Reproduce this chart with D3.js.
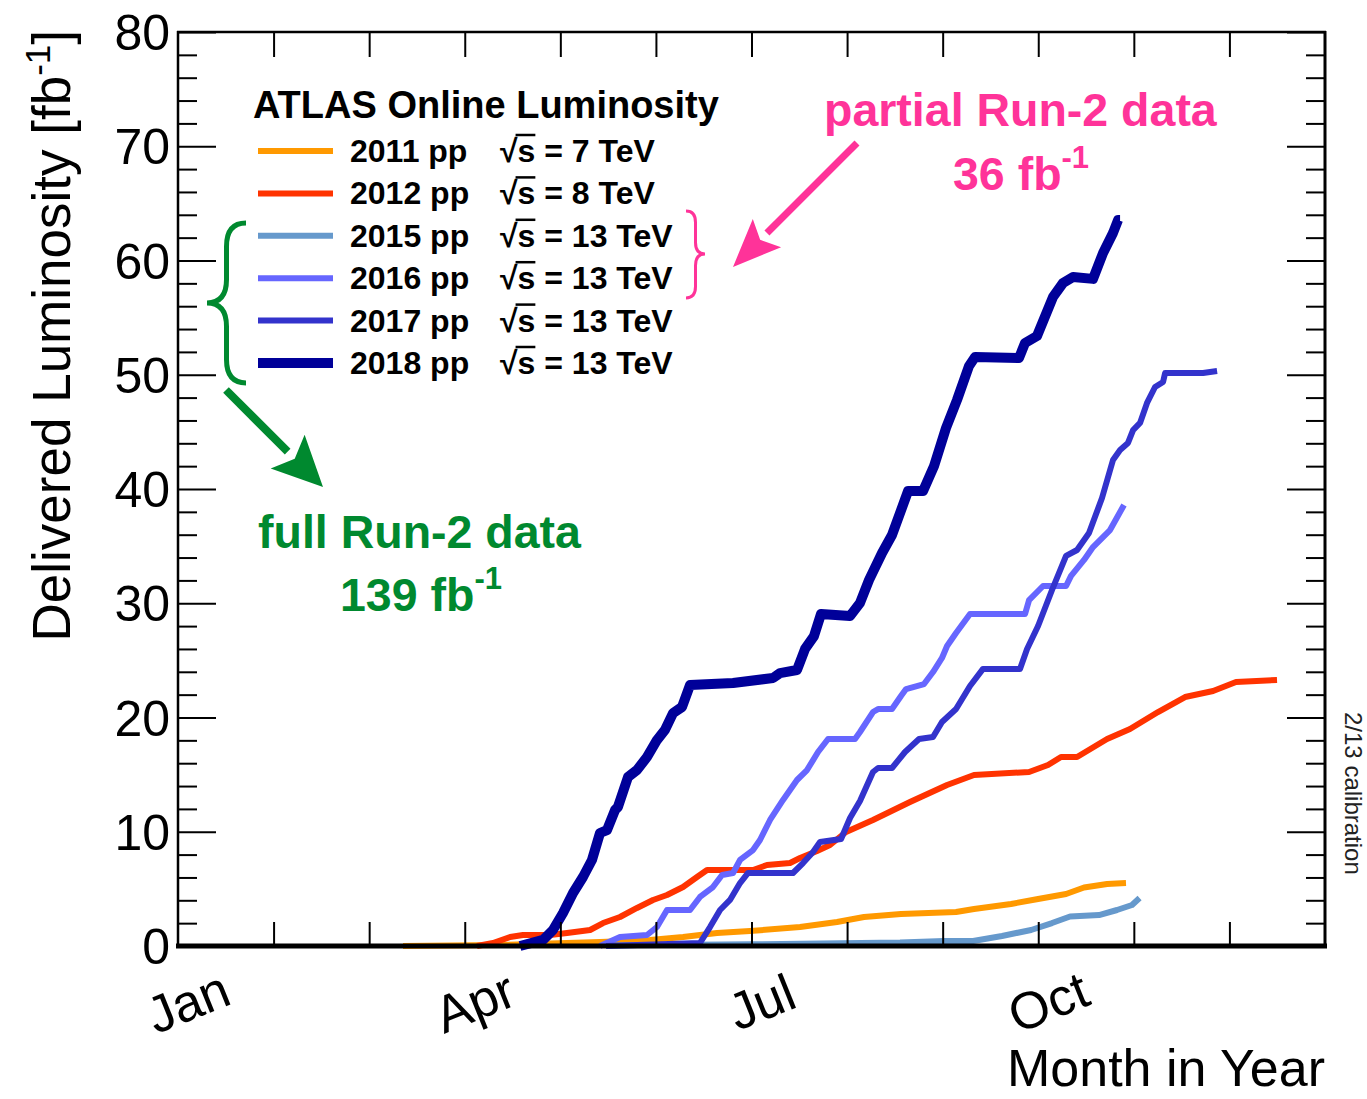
<!DOCTYPE html>
<html>
<head>
<meta charset="utf-8">
<script src="https://cdn.jsdelivr.net/npm/d3@7"></script>
<style>
  body { margin: 0; background: #fff; }
  text { font-family: "Liberation Sans", Arial, sans-serif; }
</style>
</head>
<body>
<svg id="chart" width="1367" height="1099"></svg>
<script>
// month of year (0 = 1 Jan, 12 = 31 Dec), delivered luminosity in fb^-1
var lumi2011 = [[2.354,0],[3.369,0.09],[4.415,0.35],[4.938,0.53],[5.284,0.79],[5.639,1.14],[5.984,1.31],
  [6.508,1.66],[6.895,2.10],[7.177,2.54],[7.564,2.80],[8.140,2.98],[8.328,3.24],[8.715,3.68],[8.998,4.11],
  [9.291,4.55],[9.479,5.12],[9.720,5.43],[9.918,5.51]];
var lumi2012 = [[3.128,0],[3.296,0.26],[3.474,0.79],[3.610,0.96],[3.892,0.96],[4.070,1.14],[4.311,1.40],
  [4.447,2.01],[4.624,2.54],[4.802,3.33],[4.970,4.03],[5.116,4.46],[5.284,5.16],[5.430,6.04],[5.535,6.65],
  [6.016,6.65],[6.162,7.09],[6.403,7.26],[6.508,7.70],[6.686,8.32],[6.821,8.84],[6.989,9.98],[7.271,11.03],
  [7.658,12.60],[8.046,14.09],[8.328,14.97],[8.904,15.23],[9.102,15.84],[9.238,16.54],[9.406,16.54],
  [9.720,18.12],[9.960,18.99],[10.253,20.48],[10.536,21.79],[10.829,22.32],[11.069,23.11],[11.498,23.28]];
var lumi2015 = [[4.488,0.05],[5.984,0.15],[7.554,0.30],[8.014,0.44],[8.318,0.44],[8.621,0.88],[8.925,1.40],
  [9.144,2.01],[9.333,2.58],[9.636,2.71],[9.824,3.15],[9.981,3.59],[10.06,4.2]];
var lumi2016 = [[4.415,0],[4.624,0.79],[4.907,0.96],[5.011,1.66],[5.116,3.15],[5.357,3.15],[5.461,4.29],
  [5.597,5.16],[5.692,6.21],[5.807,6.39],[5.880,7.53],[6.016,8.40],[6.089,9.28],[6.194,11.03],[6.330,12.78],
  [6.476,14.53],[6.581,15.40],[6.696,16.98],[6.801,18.12],[7.083,18.12],[7.135,18.73],[7.271,20.48],
  [7.324,20.74],[7.470,20.74],[7.564,21.88],[7.617,22.49],[7.805,22.93],[7.899,23.98],[7.993,25.21],
  [8.046,26.26],[8.140,27.40],[8.286,29.06],[8.862,29.06],[8.904,30.28],[9.050,31.51],[9.291,31.51],
  [9.343,32.39],[9.479,33.79],[9.573,34.92],[9.751,36.41],[9.897,38.60]];
var lumi2017 = [[4.478,0],[5.461,0.26],[5.566,1.66],[5.671,3.15],[5.775,4.03],[5.880,5.51],[5.964,6.39],
  [6.434,6.39],[6.539,7.26],[6.644,8.23],[6.717,9.10],[6.937,9.37],[7.031,11.20],[7.135,12.69],[7.271,15.23],
  [7.324,15.58],[7.470,15.58],[7.606,16.98],[7.753,18.12],[7.899,18.29],[7.993,19.61],[8.140,20.74],
  [8.286,22.76],[8.422,24.25],[8.809,24.25],[8.883,26.00],[8.998,28.01],[9.144,31.16],[9.291,34.14],
  [9.406,34.66],[9.531,36.15],[9.667,39.21],[9.782,42.54],[9.856,43.41],[9.939,44.03],[9.992,45.16],
  [10.065,45.78],[10.138,47.53],[10.222,48.93],[10.306,49.37],[10.327,50.15],[10.724,50.15],[10.871,50.33]];
var lumi2018 = [[3.578,0],[3.819,0.53],[3.923,1.40],[4.028,2.89],[4.133,4.64],[4.237,6.04],[4.331,7.53],
  [4.415,9.89],[4.488,10.15],[4.572,11.90],[4.603,12.17],[4.708,14.79],[4.802,15.40],[4.907,16.54],
  [5.011,18.03],[5.095,18.91],[5.179,20.39],[5.273,20.92],[5.357,22.84],[5.807,23.02],[6.225,23.46],
  [6.298,23.89],[6.476,24.16],[6.560,26.00],[6.654,27.13],[6.727,29.06],[7.031,28.88],[7.135,30.02],
  [7.230,32.04],[7.366,34.40],[7.470,35.97],[7.638,39.82],[7.795,39.82],[7.910,42.01],[8.035,45.34],
  [8.150,47.79],[8.276,50.77],[8.339,51.55],[8.799,51.47],[8.862,52.78],[8.987,53.39],[9.155,56.81],
  [9.259,58.03],[9.364,58.56],[9.573,58.39],[9.678,60.66],[9.782,62.41],[9.835,63.55],[9.856,63.55]];

var years = ["2011", "2012", "2015", "2016", "2017", "2018"];
var energies = ["7", "8", "13", "13", "13", "13"];
var seriesData = [lumi2011, lumi2012, lumi2015, lumi2016, lumi2017, lumi2018];
var seriesColors = ["#ff9900", "#ff3300", "#6699cc", "#6666ff", "#3333cc", "#000099"];
var seriesWidths = [6, 6, 6, 6, 6, 10];

var monthLabels = ["Jan", "Apr", "Jul", "Oct"];
var monthLabelAt = [0, 3, 6, 9];
var yTickValues = [0, 10, 20, 30, 40, 50, 60, 70, 80];

var svg = d3.select("#chart");
var x = d3.scaleLinear().domain([0, 12]).range([178, 1325]);
var y = d3.scaleLinear().domain([0, 80]).range([946, 32]);

// curves
var line = d3.line().x(d => x(d[0])).y(d => y(d[1]));
svg.append("g").selectAll("path")
  .data(seriesData).enter().append("path")
  .attr("fill", "none")
  .attr("stroke", (d, i) => seriesColors[i])
  .attr("stroke-width", (d, i) => seriesWidths[i])
  .attr("stroke-linejoin", "round")
  .attr("d", line);

// ticks, ROOT style (inside the frame, on all four sides)
function tickGroup(axis, tx, ty) {
  var g = svg.append("g").attr("transform", "translate(" + tx + "," + ty + ")").call(axis);
  g.select(".domain").remove();
  g.selectAll("line").attr("stroke", "#000").attr("stroke-width", 2);
  return g;
}
var minorY = d3.range(0, 81, 2).filter(v => v % 10 != 0);
var monthTicks = d3.range(1, 12);
tickGroup(d3.axisRight(y).tickValues(yTickValues).tickSize(38).tickFormat(""), 178, 0);
tickGroup(d3.axisRight(y).tickValues(minorY).tickSize(19).tickFormat(""), 178, 0);
tickGroup(d3.axisLeft(y).tickValues(yTickValues).tickSize(38).tickFormat(""), 1325, 0);
tickGroup(d3.axisLeft(y).tickValues(minorY).tickSize(19).tickFormat(""), 1325, 0);
tickGroup(d3.axisTop(x).tickValues(monthTicks).tickSize(24).tickFormat(""), 0, 946);
tickGroup(d3.axisBottom(x).tickValues(monthTicks).tickSize(25).tickFormat(""), 0, 32);

// frame
svg.append("line").attr("x1", 178).attr("x2", 178).attr("y1", 31).attr("y2", 947)
  .attr("stroke", "#000").attr("stroke-width", 2.5);
svg.append("line").attr("x1", 177).attr("x2", 1326).attr("y1", 32).attr("y2", 32)
  .attr("stroke", "#000").attr("stroke-width", 2.5);
svg.append("line").attr("x1", 1325).attr("x2", 1325).attr("y1", 31).attr("y2", 947)
  .attr("stroke", "#000").attr("stroke-width", 3);
svg.append("line").attr("x1", 176).attr("x2", 1327).attr("y1", 946).attr("y2", 946)
  .attr("stroke", "#000").attr("stroke-width", 5);

// y tick labels
svg.append("g").selectAll("text").data(yTickValues).enter().append("text")
  .attr("x", 170).attr("y", d => y(d) + 18)
  .attr("text-anchor", "end").attr("font-size", 50)
  .text(d => d);

// month labels, tilted
svg.append("g").selectAll("text").data(monthLabels).enter().append("text")
  .attr("transform", (d, i) => "translate(" + (x(monthLabelAt[i]) + 10) + ",1002) rotate(-22)")
  .attr("text-anchor", "middle").attr("dy", "0.35em").attr("font-size", 52)
  .text(d => d);

svg.append("text").attr("x", 1325).attr("y", 1086).attr("text-anchor", "end")
  .attr("font-size", 52).text("Month in Year");

var yt = svg.append("text").attr("transform", "translate(70,30) rotate(-90)")
  .attr("text-anchor", "end").attr("font-size", 53);
yt.append("tspan").text("Delivered Luminosity [fb");
yt.append("tspan").attr("dy", -20).attr("font-size", 35).text("-1");
yt.append("tspan").attr("dy", 20).text("]");

svg.append("text").attr("transform", "translate(1345,712) rotate(90)")
  .attr("font-size", 24).attr("fill", "#222").text("2/13 calibration");

// legend
svg.append("text").attr("x", 253).attr("y", 118).attr("font-size", 38)
  .attr("font-weight", "bold").text("ATLAS Online Luminosity");
var rowY = d => 151 + d * 42.4;
var leg = svg.append("g").selectAll("g").data(years).enter().append("g");
leg.append("line").attr("x1", 258).attr("x2", 333)
  .attr("y1", (d, i) => rowY(i)).attr("y2", (d, i) => rowY(i))
  .attr("stroke", (d, i) => seriesColors[i]).attr("stroke-width", (d, i) => seriesWidths[i]);
leg.append("text").attr("x", 350).attr("y", (d, i) => rowY(i) + 11)
  .attr("font-size", 32).attr("font-weight", "bold").text(d => d + " pp");
var sq = leg.append("text").attr("x", 500).attr("y", (d, i) => rowY(i) + 11)
  .attr("font-size", 32).attr("font-weight", "bold")
  .text((d, i) => "\u221As = " + energies[i] + " TeV");
// bar over the s of the square root
sq.each(function () {
  var r = this.getExtentOfChar(0), s = this.getExtentOfChar(1);
  svg.append("line").attr("x1", r.x + r.width - 2).attr("x2", s.x + s.width)
    .attr("y1", r.y + 2).attr("y2", r.y + 2)
    .attr("stroke", "#000").attr("stroke-width", 2.5);
});

// annotations
var pink = "#ff3399", green = "#00892f";
function brace(x0, xt, y1, y2, ym) {
  var xm = (x0 + xt) / 2, r = Math.abs(xt - x0) * 0.6;
  return "M" + x0 + "," + y1 + " Q" + xm + "," + y1 + " " + xm + "," + (y1 + r) +
    " L" + xm + "," + (ym - r) + " Q" + xm + "," + ym + " " + xt + "," + ym +
    " Q" + xm + "," + ym + " " + xm + "," + (ym + r) +
    " L" + xm + "," + (y2 - r) + " Q" + xm + "," + y2 + " " + x0 + "," + y2;
}
svg.append("path").attr("d", brace(686, 705, 211, 298, 254))
  .attr("fill", "none").attr("stroke", pink).attr("stroke-width", 3);
svg.append("path").attr("d", brace(246, 207, 223, 383, 303))
  .attr("fill", "none").attr("stroke", green).attr("stroke-width", 5);

function arrow(x1, y1, x2, y2, col, w, len, half) {
  var a = Math.atan2(y2 - y1, x2 - x1);
  var bx = x2 - len * Math.cos(a), by = y2 - len * Math.sin(a);
  svg.append("line").attr("x1", x1).attr("y1", y1).attr("x2", bx).attr("y2", by)
    .attr("stroke", col).attr("stroke-width", w);
  var px = -Math.sin(a) * half, py = Math.cos(a) * half;
  svg.append("path").attr("fill", col)
    .attr("d", "M" + x2 + "," + y2 + " L" + (bx + px) + "," + (by + py) +
      " L" + (bx + len * 0.2 * Math.cos(a)) + "," + (by + len * 0.2 * Math.sin(a)) +
      " L" + (bx - px) + "," + (by - py) + "Z");
}
arrow(857, 143, 733, 267, pink, 7, 48, 20);
arrow(226, 390, 323, 487, green, 8, 50, 24);

function note(x0, y0, str, col) {
  return svg.append("text").attr("x", x0).attr("y", y0).attr("fill", col)
    .attr("font-family", "Lato, 'Open Sans', sans-serif").attr("font-weight", "bold")
    .attr("font-size", 46.5).text(str);
}
function lumiNote(x0, y0, num, col) {
  var t = note(x0, y0, "", col);
  t.append("tspan").text(num + " fb");
  t.append("tspan").attr("dy", -22).attr("font-size", 31).text("-1");
}
note(824, 126, "partial Run-2 data", pink);
lumiNote(953, 190, "36", pink);
note(258, 548, "full Run-2 data", green);
lumiNote(340, 611, "139", green);
</script>
</body>
</html>
